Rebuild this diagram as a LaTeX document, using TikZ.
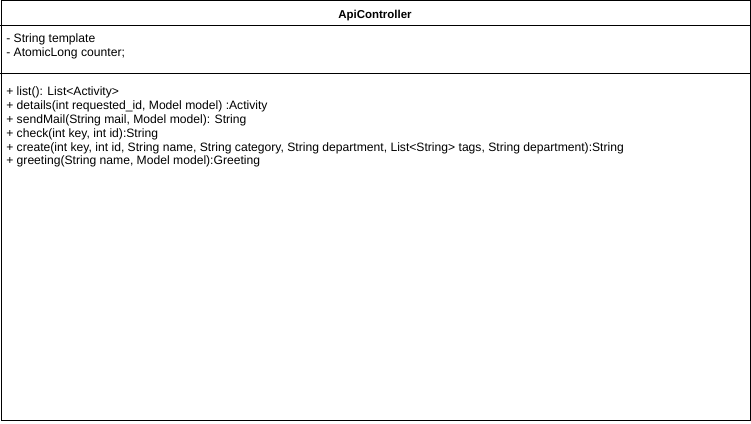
\documentclass[tikz,border=0pt]{standalone}
\usepackage{fontspec}
\setmainfont{Liberation Sans}
\begin{document}
\begin{tikzpicture}[x=0.75pt,y=-0.75pt,
  txt/.style={anchor=base west,inner sep=0pt,font=\fontsize{9.1pt}{11pt}\selectfont},
  ttl/.style={anchor=base,inner sep=0pt,font=\fontsize{8.6pt}{10pt}\selectfont\bfseries},
  frame/.style={draw=black,line width=0.75pt}]
\useasboundingbox (0,0) rectangle (751,424);
\node[frame,rectangle,minimum width=749.5*0.75pt,minimum height=420*0.75pt,anchor=north west,inner sep=0pt] (box) at (0.5,0.5) {};
\coordinate (s1l) at (0.5,26);
\coordinate (s1r) at (750,26);
\coordinate (s2l) at (0.5,74);
\coordinate (s2r) at (750,74);
\draw[frame] (s1l) -- (s1r);
\draw[frame] (s2l) -- (s2r);
\node[ttl] (title) at (375,19) {ApiController};
\node[txt] (a1) at (6,43) {- String template};
\node[txt] (a2) at (6,56.5) {- AtomicLong counter;};
\node[txt] (m1) at (6,96) {+ list(): List<Activity>};
\node[txt] (m2) at (6,109.8) {+ details(int requested\_id, Model model) :Activity};
\node[txt] (m3) at (6,123.6) {+ sendMail(String mail, Model model): String};
\node[txt] (m4) at (6,137.4) {+ check(int key, int id):String};
\node[txt] (m5) at (6,151.2) {+ create(int key, int id, String name, String category, String department, List<String> tags, String department):String};
\node[txt] (m6) at (6,165) {+ greeting(String name, Model model):Greeting};
\end{tikzpicture}
\end{document}
